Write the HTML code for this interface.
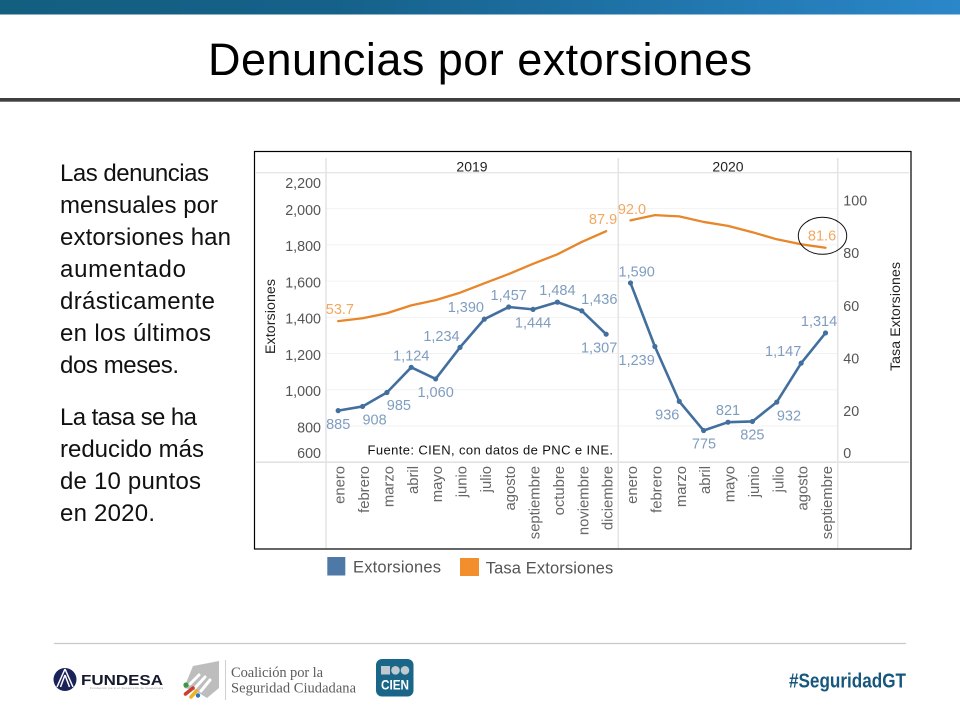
<!DOCTYPE html>
<html lang="es">
<head>
<meta charset="utf-8">
<title>Denuncias por extorsiones</title>
<style>
html,body{margin:0;padding:0;background:#fff;width:960px;height:720px;overflow:hidden}
svg{display:block;font-family:"Liberation Sans",sans-serif}
</style>
</head>
<body>
<svg id="slide" width="960" height="720" viewBox="0 0 960 720" xmlns="http://www.w3.org/2000/svg">
  <defs>
    <linearGradient id="barGrad" x1="0" y1="0" x2="1" y2="0">
      <stop offset="0" stop-color="#135f80"/>
      <stop offset="0.35" stop-color="#15618a"/>
      <stop offset="1" stop-color="#2b87c9"/>
    </linearGradient>
  </defs>
  <rect width="960" height="720" fill="#ffffff"/>
  <rect x="0" y="0" width="960" height="14.5" fill="url(#barGrad)"/>
  <text x="208" y="75" font-size="45" textLength="544" lengthAdjust="spacing" fill="#000">Denuncias por extorsiones</text>
  <rect x="0" y="98" width="960" height="3.7" fill="#404040"/>

  <g font-size="24" fill="#111">
    <text x="60" y="181" textLength="149">Las denuncias</text>
    <text x="60" y="213" textLength="158">mensuales por</text>
    <text x="60" y="245" textLength="171">extorsiones han</text>
    <text x="60" y="277" textLength="126">aumentado</text>
    <text x="60" y="309" textLength="155">drásticamente</text>
    <text x="60" y="341" textLength="151">en los últimos</text>
    <text x="60" y="373" textLength="119">dos meses.</text>
    <text x="60" y="425" textLength="137">La tasa se ha</text>
    <text x="60" y="457" textLength="144">reducido más</text>
    <text x="60" y="489" textLength="141">de 10 puntos</text>
    <text x="60" y="521" textLength="95">en 2020.</text>
  </g>

  <g id="chart">
    <rect x="254.5" y="151.5" width="656.5" height="397.5" fill="#fff" stroke="#000" stroke-width="1.2"/>
    <g id="grid"></g>
    <line x1="256" x2="909" y1="172.7" y2="172.7" stroke="#e6e6e6" stroke-width="1.4"/>
    <line x1="256" x2="909" y1="462.2" y2="462.2" stroke="#e2e2e2" stroke-width="1.6"/>
    <line x1="326" x2="326" y1="158" y2="548" stroke="#e4e4e4" stroke-width="1.5"/>
    <line x1="618.3" x2="618.3" y1="158" y2="548" stroke="#e4e4e4" stroke-width="1.5"/>
    <line x1="837.7" x2="837.7" y1="158" y2="548" stroke="#e4e4e4" stroke-width="1.5"/>
    <text x="472" y="171.5" font-size="14" text-anchor="middle" fill="#222">2019</text>
    <text x="728" y="171.5" font-size="14" text-anchor="middle" fill="#222">2020</text>
    <g id="leftTicksG"></g>
    <g id="rightTicksG"></g>
    <g id="catG"></g>
    <text transform="translate(275,316.5) rotate(-90)" font-size="14.2" text-anchor="middle" textLength="75" fill="#222">Extorsiones</text>
    <text transform="translate(900,316.5) rotate(-90)" font-size="14.1" text-anchor="middle" textLength="109" fill="#222">Tasa Extorsiones</text>
    <g id="series"></g>
    <text x="367.5" y="454.5" font-size="13" textLength="245.5" fill="#111">Fuente: CIEN, con datos de PNC e INE.</text>
    <ellipse cx="822.5" cy="235.8" rx="24.2" ry="18.5" fill="none" stroke="#111" stroke-width="1"/>
  </g>

  <g>
    <rect x="327.3" y="557" width="18" height="18.5" fill="#4e79a7"/>
    <text x="353" y="572.5" font-size="16.5" textLength="88" fill="#555">Extorsiones</text>
    <rect x="460" y="558" width="19" height="18" fill="#f28e2b"/>
    <text x="485.7" y="573.5" font-size="16.5" textLength="127.5" fill="#555">Tasa Extorsiones</text>
  </g>

  <g>
    <line x1="54" x2="906" y1="643.5" y2="643.5" stroke="#c8c8c8" stroke-width="1.3"/>

    <g>
      <circle cx="65" cy="679.5" r="11.5" fill="#1b2258"/>
      <path d="M65 669 L57 687 M65 669 L73 687 M65 675 L60.5 687 M65 675 L69.5 687" stroke="#fff" stroke-width="1.5" fill="none"/>
      <text x="81" y="685" font-size="14.5" font-weight="bold" textLength="82" lengthAdjust="spacingAndGlyphs" fill="#16182c">FUNDESA</text>
      <text x="90" y="689" font-size="2.8" textLength="73" fill="#8a8a8a">Fundación para el Desarrollo de Guatemala</text>
    </g>

    <g>
      <path d="M193 666 L219 661 L219 688 L207 698 L194 690 L184 688 Z" fill="#bdbdbd"/>
      <g stroke="#fff" stroke-width="3" stroke-linecap="round">
        <line x1="190" y1="684" x2="199" y2="675"/>
        <line x1="195" y1="688" x2="205" y2="677"/>
        <line x1="201" y1="691" x2="210" y2="680"/>
      </g>
      <circle cx="186" cy="685" r="2.6" fill="#3b9a3b"/>
      <line x1="185.5" y1="694" x2="193" y2="688" stroke="#c8402f" stroke-width="3.6" stroke-linecap="round"/>
      <line x1="191" y1="697" x2="196.5" y2="691" stroke="#efb32a" stroke-width="3.6" stroke-linecap="round"/>
      <circle cx="198" cy="695.5" r="2.2" fill="#2a74b8"/>
      <line x1="225.5" x2="225.5" y1="660" y2="700" stroke="#cfcfcf" stroke-width="1"/>
      <g font-family="'Liberation Serif',serif" fill="#5c5c5c">
        <text x="231" y="677" font-size="14.5" textLength="92">Coalición por la</text>
        <text x="231" y="692.5" font-size="14.5" textLength="125">Seguridad Ciudadana</text>
      </g>
    </g>

    <g>
      <rect x="376" y="659" width="37.5" height="37.5" rx="6" fill="#1a6688"/>
      <rect x="381" y="666" width="9" height="8.5" fill="#bfc9cf"/>
      <circle cx="395.5" cy="670.3" r="4.3" fill="#bfc9cf"/>
      <circle cx="405" cy="670.3" r="4.3" fill="#bfc9cf"/>
      <text x="381" y="689.5" font-size="13.5" font-weight="bold" textLength="28" lengthAdjust="spacingAndGlyphs" fill="#fff">CIEN</text>
    </g>

    <text x="789" y="687.5" font-size="20" font-weight="bold" textLength="117" lengthAdjust="spacingAndGlyphs" fill="#17577d">#SeguridadGT</text>
  </g>
</svg>

<script>
const months2019 = ["enero","febrero","marzo","abril","mayo","junio","julio","agosto","septiembre","octubre","noviembre","diciembre"];
const months2020 = ["enero","febrero","marzo","abril","mayo","junio","julio","agosto","septiembre"];
const extorsiones2019 = [885,908,985,1124,1060,1234,1390,1457,1444,1484,1436,1307];
const extorsiones2020 = [1590,1239,936,775,821,825,932,1147,1314];
const tasa2019 = [53.7,54.8,56.7,59.7,61.7,64.5,68.1,71.6,75.5,79.1,83.8,87.9];
const tasa2020 = [92.0,94.0,93.5,91.4,89.9,87.5,84.8,82.9,81.6];
const leftTickValues = [600,800,1000,1200,1400,1600,1800,2000,2200];
const rightTickValues = [0,20,40,60,80,100];

const NS = "http://www.w3.org/2000/svg";
function yLeft(v){ return 426 - (v - 800) * 0.1811; }
function yRight(v){ return 462.5 - v * 2.632; }
function x2019(i){ return 326 + (i + 0.5) * 24.36; }
function x2020(i){ return 618.3 + (i + 0.5) * 24.38; }
function fmt(v){ return String(v).replace(/\B(?=(\d{3})+$)/g, ","); }

function drawGrid(){
  const g = document.getElementById("grid");
  leftTickValues.slice(1, -1).forEach(function(v){
    const l = document.createElementNS(NS, "line");
    l.setAttribute("x1", 326);
    l.setAttribute("x2", 838);
    l.setAttribute("y1", yLeft(v));
    l.setAttribute("y2", yLeft(v));
    l.setAttribute("stroke", "#f2f2f2");
    l.setAttribute("stroke-width", "1");
    
    
    g.appendChild(l);
  });
}

function makeText(parent, x, y, str, size, fill, anchor){
  const t = document.createElementNS(NS, "text");
  t.setAttribute("x", x);
  t.setAttribute("y", y);
  t.setAttribute("font-size", size);
  t.setAttribute("fill", fill);
  t.setAttribute("text-anchor", anchor);
  t.textContent = str;
  parent.appendChild(t);
  return t;
}

function drawTicks(){
  const lg = document.getElementById("leftTicksG");
  leftTickValues.forEach(function(v){
    const cy = Math.min(453, Math.max(183, yLeft(v) + 1.3));
    const t = makeText(lg, 321, cy + 5, fmt(v), 14.3, "#555", "end");
    
    
  });
  const rg = document.getElementById("rightTicksG");
  rightTickValues.forEach(function(v){
    const cy = Math.min(453, yRight(v) + 1.3);
    const t = makeText(rg, 843.3, cy + 5, String(v), 14.3, "#555", "start");
    
    
  });
}

function drawCategories(labels, xFn){
  const g = document.getElementById("catG");
  labels.forEach(function(m, i){
    const t = document.createElementNS(NS, "text");
    t.setAttribute("transform", "translate(" + (xFn(i) + 6.5) + ",466) rotate(-90)");
    t.setAttribute("font-size", "14.8");
    t.setAttribute("fill", "#666");
    t.setAttribute("text-anchor", "end");
    t.textContent = m;
    
    
    g.appendChild(t);
  });
}

function drawLine(values, xFn, yFn, color, width){
  const g = document.getElementById("series");
  const p = document.createElementNS(NS, "polyline");
  p.setAttribute("points", values.map(function(v, i){ return xFn(i) + "," + yFn(v); }).join(" "));
  p.setAttribute("fill", "none");
  p.setAttribute("stroke", color);
  p.setAttribute("stroke-width", width);
  p.setAttribute("stroke-linejoin", "round");
  p.setAttribute("stroke-linecap", "round");
  
  
  g.appendChild(p);
}

function drawPoints(values, xFn, yFn, color){
  const g = document.getElementById("series");
  values.forEach(function(v, i){
    const c = document.createElementNS(NS, "circle");
    c.setAttribute("cx", xFn(i));
    c.setAttribute("cy", yFn(v));
    c.setAttribute("r", "2.6");
    c.setAttribute("fill", color);
    
    
    g.appendChild(c);
  });
}

function drawValueLabel(str, px, py, dx, dy, color){
  const g = document.getElementById("series");
  const t = makeText(g, px + dx, py + dy + 5, str, 14.5, color, "middle");
  
  
}

function drawAll(){
  drawGrid();
  drawTicks();
  drawCategories(months2019, x2019);
  drawCategories(months2020, x2020);

  const blue = "#426f9e", blueText = "#7f9dbf", orange = "#e8862a", orangeText = "#f2a860";
  drawLine(tasa2019, x2019, yRight, orange, 2.3);
  drawLine(tasa2020, x2020, yRight, orange, 2.3);
  drawLine(extorsiones2019, x2019, yLeft, blue, 2.6);
  drawLine(extorsiones2020, x2020, yLeft, blue, 2.6);
  drawPoints(extorsiones2019, x2019, yLeft, blue);
  drawPoints(extorsiones2020, x2020, yLeft, blue);

  const place2019 = [[0,13.4],[12,13],[12,12.5],[0,-12],[0,13],[-18.5,-11.5],[-18.5,-12],[0,-12],[0,13.3],[0,-12],[17.5,-11.8],[-7,13.3]];
  const place2020 = [[6.2,-11.5],[-18.2,13.5],[-12,13],[0.4,13.2],[0,-12],[0,13.2],[12.2,13.3],[-18,-12],[-6.5,-12]];
  extorsiones2019.forEach(function(v, i){
    drawValueLabel(fmt(v), x2019(i), yLeft(v), place2019[i][0], place2019[i][1], blueText);
  });
  extorsiones2020.forEach(function(v, i){
    drawValueLabel(fmt(v), x2020(i), yLeft(v), place2020[i][0], place2020[i][1], blueText);
  });

  const lastT19 = tasa2019.length - 1, lastT20 = tasa2020.length - 1;
  drawValueLabel(tasa2019[0].toFixed(1), x2019(0), yRight(tasa2019[0]), 1.7, -12, orangeText);
  drawValueLabel(tasa2019[lastT19].toFixed(1), x2019(lastT19), yRight(tasa2019[lastT19]), -3.1, -12, orangeText);
  drawValueLabel(tasa2020[0].toFixed(1), x2020(0), yRight(tasa2020[0]), 1.5, -11.5, orangeText);
  drawValueLabel(tasa2020[lastT20].toFixed(1), x2020(lastT20), yRight(tasa2020[lastT20]), -3.5, -12, orangeText);
}
drawAll();
</script>
</body>
</html>
